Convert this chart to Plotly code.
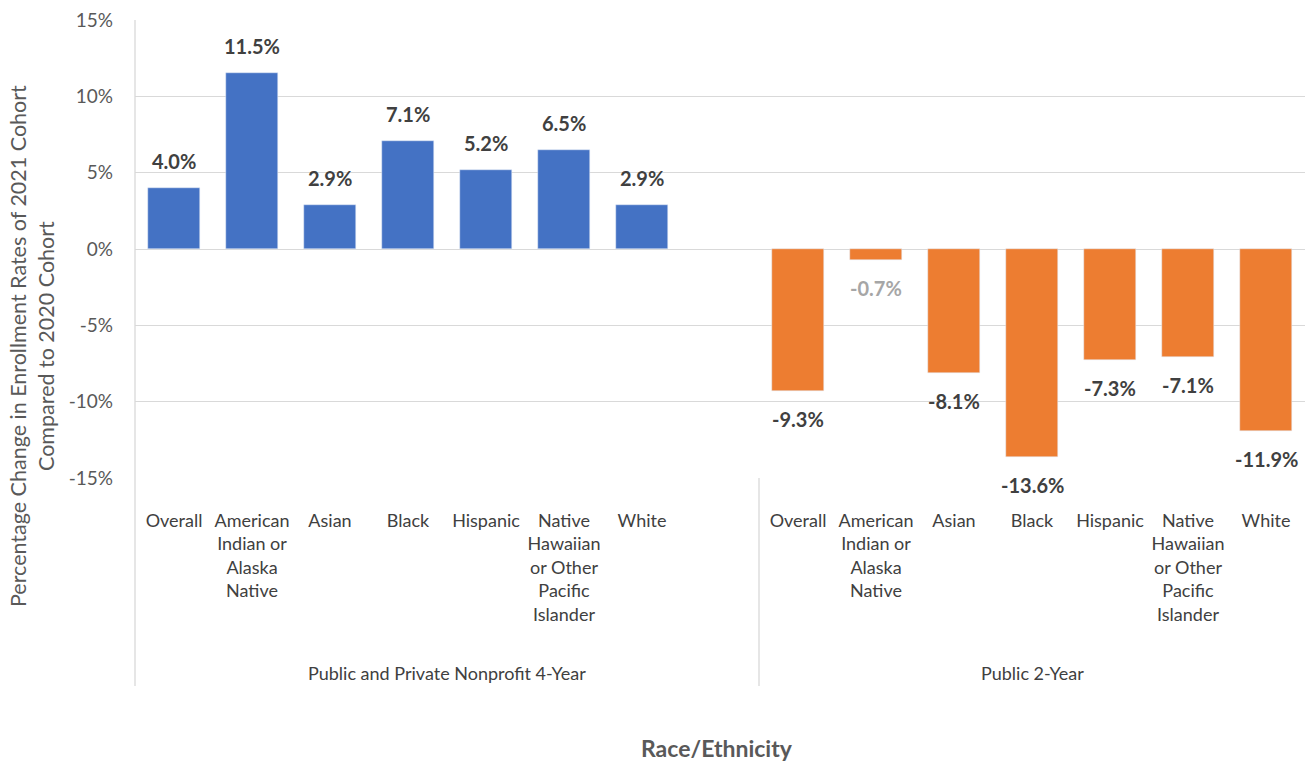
import plotly.graph_objects as go

categories = ["Overall", "American<br>Indian or<br>Alaska<br>Native", "Asian", "Black", "Hispanic",
              "Native<br>Hawaiian<br>or Other<br>Pacific<br>Islander", "White"]
groups = ["Public and Private Nonprofit 4-Year", "Public 2-Year"]
values_4yr = [4.0, 11.5, 2.9, 7.1, 5.2, 6.5, 2.9]
values_2yr = [-9.3, -0.7, -8.1, -13.6, -7.3, -7.1, -11.9]
y_ticks = [15, 10, 5, 0, -5, -10, -15]
y_ticklabels = ["15%", "10%", "5%", "0%", "-5%", "-10%", "-15%"]

FONT = "Lato, 'Open Sans', sans-serif"
n = len(categories)
x1 = list(range(n))
x2 = [n + 1 + i for i in range(n)]

fig = go.Figure()
fig.add_trace(go.Bar(x=x1, y=values_4yr, marker_color="#4472C4", width=0.67, showlegend=False))
fig.add_trace(go.Bar(x=x2, y=values_2yr, marker_color="#ED7D31", width=0.67, showlegend=False))

# data labels
for xs, vs in ((x1, values_4yr), (x2, values_2yr)):
    for x, v in zip(xs, vs):
        color = "#404040" if abs(v) >= 1 else "#A6A6A6"
        fig.add_annotation(x=x, y=v, xref="x", yref="y", text=f"<b>{v:.1f}%</b>",
                           showarrow=False, yanchor="middle", yshift=27 if v >= 0 else -28,
                           font=dict(family=FONT, size=20, color=color))

total = 2 * n + 1
fig.update_layout(
    width=1305, height=765,
    margin=dict(l=135, r=0, t=20, b=287),
    plot_bgcolor="white", paper_bgcolor="white",
    font=dict(family=FONT, color="#595959"),
    bargap=0,
    xaxis=dict(range=[-0.5, total - 0.5], tickvals=x1 + x2, ticktext=categories + categories,
               showgrid=False, zeroline=False, showline=False, ticks="",
               tickfont=dict(family=FONT, size=18, color="#404040"), tickangle=0,
               ticklabelstandoff=30),
    yaxis=dict(range=[-15, 15], tickvals=y_ticks, ticktext=y_ticklabels,
               showgrid=True, gridcolor="#D9D9D9", gridwidth=1.3, zeroline=False,
               showline=False, ticks="", tickfont=dict(family=FONT, size=19, color="#595959"),
               ticklabelstandoff=21),
)

line_color = "#D9D9D9"
bottom = (478 - 686) / 458
fig.add_shape(type="line", xref="paper", yref="paper", x0=0, x1=0, y0=bottom, y1=1,
              line=dict(color=line_color, width=1.3))
fig.add_shape(type="line", xref="x", yref="paper", x0=n + 0.5, x1=n + 0.5, y0=bottom, y1=0,
              line=dict(color=line_color, width=1.3))

group_centers = [(x1[0] + x1[-1] + 1) / 2, (x2[0] + x2[-1]) / 2]
for g, cx in zip(groups, group_centers):
    fig.add_annotation(text=g, x=cx, xref="x", y=(478 - 673) / 458, yref="paper",
                       showarrow=False, yanchor="middle",
                       font=dict(family=FONT, size=18, color="#404040"))

fig.add_annotation(text="Percentage Change in Enrollment Rates of 2021 Cohort<br>Compared to 2020 Cohort",
                   x=(32 - 135) / 1170, xref="paper", y=(478 - 346) / 458, yref="paper",
                   textangle=-90, showarrow=False, xanchor="center", yanchor="middle",
                   font=dict(family=FONT, size=21.5, color="#595959"))
fig.add_annotation(text="<b>Race/Ethnicity</b>", x=(717 - 135) / 1170, xref="paper",
                   y=(478 - 748) / 458, yref="paper", showarrow=False, yanchor="middle",
                   font=dict(family=FONT, size=23, color="#595959"))

fig.write_html("out.html")
